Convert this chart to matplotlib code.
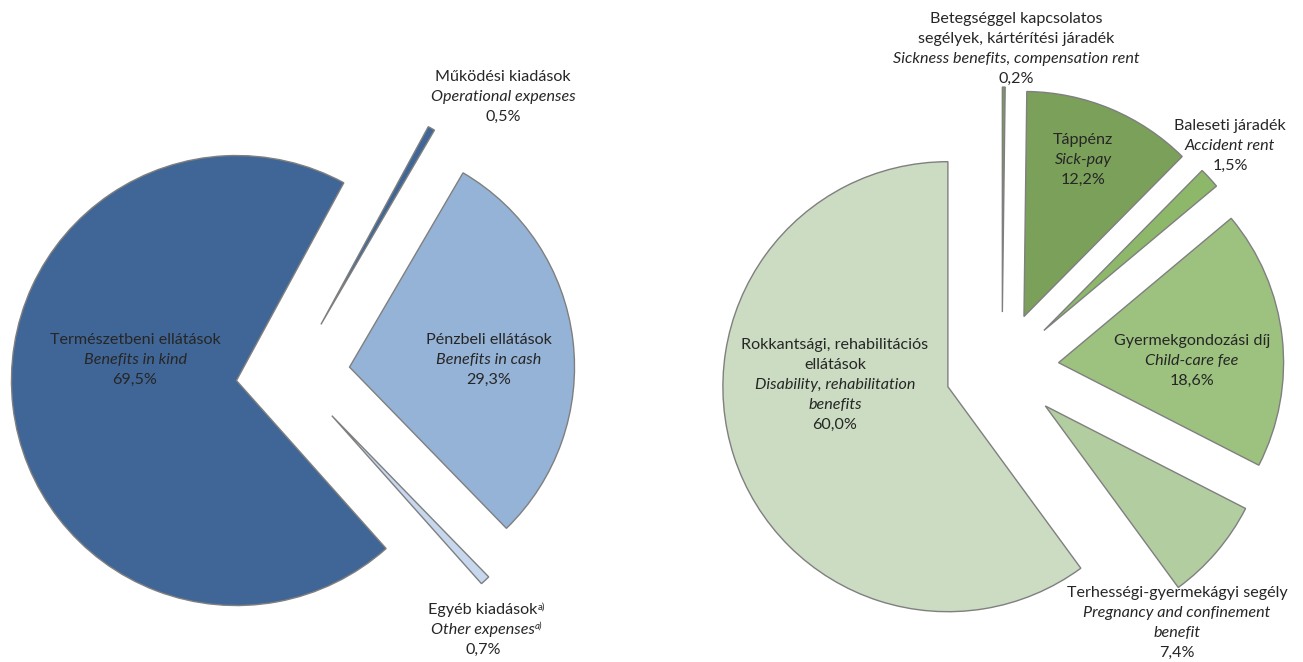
import matplotlib.pyplot as plt

# left pie: expenditure
left_hu = ["Természetbeni ellátások", "Működési kiadások", "Pénzbeli ellátások", "Egyéb kiadások"]
left_en = ["Benefits in kind", "Operational expenses", "Benefits in cash", "Other expenses"]
left_values = [69.5, 0.5, 29.3, 0.7]
left_colors = ["#3F6696", "#3F6696", "#95B3D7", "#C6D7EE"]

# right pie: cash benefits
right_hu = ["Betegséggel kapcsolatos\nsegélyek, kártérítési járadék", "Táppénz", "Baleseti járadék",
            "Gyermekgondozási díj", "Terhességi-gyermekágyi segély", "Rokkantsági, rehabilitációs\nellátások"]
right_en = ["Sickness benefits, compensation rent", "Sick-pay", "Accident rent",
            "Child-care fee", "Pregnancy and confinement\nbenefit", "Disability, rehabilitation\nbenefits"]
right_values = [0.2, 12.2, 1.5, 18.6, 7.4, 60.0]
right_colors = ["#7A9A5E", "#7AA05A", "#8DB86A", "#9DC280", "#B2CDA0", "#CBDCC2"]

# label block centres, in picture pixels (x, y from top)
left_pos = [(135, 360), (503, 97), (489, 360), (483, 630)]
right_pos = [(1016, 49), (1083, 160), (1230, 146), (1192, 361), (1177, 623), (835, 385)]

W, H = 1303, 662
R = 225
TXT = "#262626"
FONT = ["Lato", "DejaVu Sans"]
FS = 11.6
STEP = 19.8

fig = plt.figure(figsize=(W / 100, H / 100), dpi=100)
ax = fig.add_axes([0, 0, 1, 1])

wp = dict(edgecolor="#7F7F7F", linewidth=1)
ax.pie(left_values, colors=left_colors, radius=R, center=(293, H - 374),
       startangle=311.7, counterclock=False, explode=[0.253 * R] * 4, wedgeprops=wp)
ax.pie(right_values, colors=right_colors, radius=R, center=(1002, H - 369),
       startangle=90, counterclock=False, explode=[0.253 * R] * 6, wedgeprops=wp)
ax.set_xlim(0, W)
ax.set_ylim(0, H)
ax.set_aspect("equal")
ax.axis("off")


def pct(v):
    return f"{v:.1f}%".replace(".", ",")


def label(x, y, hu, en, v, sup=False):
    lines = [(s, "normal", sup) for s in hu.split("\n")]
    lines += [(s, "italic", sup) for s in en.split("\n")]
    lines.append((pct(v), "normal", False))
    y0 = y - STEP * (len(lines) - 1) / 2
    for i, (s, st, has_sup) in enumerate(lines):
        yy = H - (y0 + i * STEP)
        t = ax.text(x, yy, s, ha="center", va="center", fontsize=FS, style=st,
                    color=TXT, family=FONT)
        if has_sup:
            # footnote mark "a)" right after the text
            ax.annotate("a)", xy=(1, 0.75), xycoords=t, xytext=(0, 0), textcoords="offset points",
                        ha="left", va="center", fontsize=7, style=st, color=TXT, family=FONT)


for i in range(len(left_values)):
    label(*left_pos[i], left_hu[i], left_en[i], left_values[i], sup=(i == 3))
for i in range(len(right_values)):
    label(*right_pos[i], right_hu[i], right_en[i], right_values[i])

fig.savefig("out.png", dpi=100)
